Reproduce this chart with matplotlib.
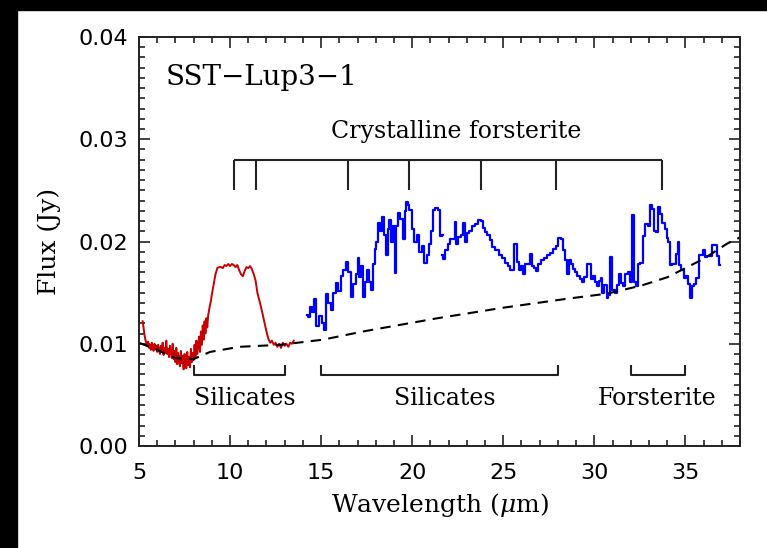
import matplotlib
matplotlib.use('Agg')
import matplotlib.pyplot as plt
from matplotlib.patches import Rectangle
from matplotlib.ticker import MultipleLocator

# SL module (red)
red_wave = [5.20, 5.25, 5.30, 5.35, 5.40, 5.45, 5.50, 5.55, 5.60, 5.65, 5.70, 5.75,
            5.80, 5.85, 5.90, 5.95, 6.00, 6.05, 6.10, 6.15, 6.20, 6.25, 6.30, 6.35,
            6.40, 6.45, 6.50, 6.55, 6.60, 6.65, 6.70, 6.75, 6.80, 6.85, 6.90, 6.95,
            7.00, 7.05, 7.10, 7.15, 7.20, 7.25, 7.30, 7.35, 7.40, 7.45, 7.50, 7.55,
            7.60, 7.65, 7.70, 7.75, 7.80, 7.85, 7.90, 7.95, 8.00, 8.05, 8.10, 8.15,
            8.20, 8.25, 8.30, 8.35, 8.40, 8.45, 8.50, 8.55, 8.60, 8.65, 8.70, 8.75,
            8.80, 8.85, 8.90, 8.95, 9.00,
            9.1, 9.2, 9.3, 9.4, 9.5, 9.6, 9.7, 9.8, 9.9, 10.0, 10.1, 10.2, 10.3, 10.4,
            10.5, 10.6, 10.7, 10.8, 10.9, 11.0, 11.1, 11.2, 11.3, 11.4, 11.5, 11.6,
            11.7, 11.8, 11.9, 12.0, 12.1, 12.2, 12.3, 12.4, 12.5, 12.6, 12.7, 12.8,
            12.9, 13.0, 13.1, 13.2, 13.3, 13.4, 13.5]
red_flux = [0.0122, 0.0116, 0.0109, 0.0104, 0.0101, 0.0098, 0.0102, 0.0096, 0.0099,
            0.0094, 0.0101, 0.0097, 0.0093, 0.0100, 0.0095, 0.0098, 0.0092, 0.0099,
            0.0094, 0.0090, 0.0098, 0.0093, 0.0101, 0.0089, 0.0096, 0.0091, 0.0103,
            0.0090, 0.0095, 0.0087, 0.0098, 0.0092, 0.0086, 0.0100, 0.0085, 0.0093,
            0.0082, 0.0096, 0.0080, 0.0091, 0.0084, 0.0078, 0.0093, 0.0081, 0.0088,
            0.0075, 0.0090, 0.0083, 0.0076, 0.0092, 0.0079, 0.0087, 0.0077, 0.0095,
            0.0082, 0.0091, 0.0084, 0.0099, 0.0086, 0.0103, 0.0090, 0.0098, 0.0107,
            0.0092, 0.0112, 0.0099, 0.0118, 0.0104, 0.0122, 0.0110, 0.0125, 0.0116,
            0.0128, 0.0133, 0.0138, 0.0142, 0.0148,
            0.0158, 0.0168, 0.0174, 0.0175, 0.0175, 0.0174, 0.0177, 0.0176, 0.0178,
            0.0176, 0.0178, 0.0177, 0.0175, 0.0177, 0.0172, 0.0168, 0.0166, 0.0171,
            0.0175, 0.0174, 0.0176, 0.0173, 0.0168, 0.0162, 0.0150, 0.0143, 0.0136,
            0.0128, 0.0120, 0.0112, 0.0105, 0.0101, 0.0103, 0.0099, 0.0101, 0.0097,
            0.0100, 0.0096, 0.0101, 0.0098, 0.0100, 0.0097, 0.0101, 0.0100, 0.0103]

# LL2 (blue, first part)
ll2_wave = [14.22, 14.35, 14.45, 14.55, 14.68, 14.8, 14.96, 15.1, 15.2, 15.32, 15.45,
            15.6, 15.72, 15.87, 16.0, 16.15, 16.3, 16.42, 16.55, 16.7, 16.85, 16.95,
            17.06, 17.15, 17.25, 17.34, 17.47, 17.6, 17.7, 17.8, 17.9, 17.98, 18.08,
            18.17, 18.3, 18.44, 18.52, 18.6, 18.7, 18.8, 18.9, 19.0, 19.08, 19.18,
            19.26, 19.4, 19.54, 19.62, 19.69, 19.8, 19.9, 20.05, 20.18, 20.3, 20.46,
            20.6, 20.73, 20.85, 20.95, 21.08, 21.19, 21.33, 21.47, 21.56, 21.68]
ll2_flux = [0.0128, 0.0126, 0.0136, 0.0131, 0.0144, 0.0117, 0.0127, 0.0120, 0.0113,
            0.0149, 0.0140, 0.0133, 0.0150, 0.0159, 0.0152, 0.0166, 0.0172, 0.0180,
            0.0170, 0.0146, 0.0158, 0.0168, 0.0184, 0.0165, 0.0176, 0.0146, 0.0160,
            0.0172, 0.0160, 0.0153, 0.0178, 0.0193, 0.0200, 0.0218, 0.0210, 0.0224,
            0.0206, 0.0187, 0.0212, 0.0221, 0.0200, 0.0215, 0.0169, 0.0215, 0.0228,
            0.0222, 0.0202, 0.0230, 0.0239, 0.0236, 0.0231, 0.0212, 0.0200, 0.0206,
            0.0190, 0.0196, 0.0179, 0.0187, 0.0198, 0.0210, 0.0231, 0.0233, 0.0231,
            0.0205, 0.0206]

# LL1 (blue, second part)
ll1_wave = [21.65, 21.77, 21.88, 22.0, 22.15, 22.29, 22.38, 22.47, 22.6, 22.72, 22.84,
            22.93, 23.05, 23.2, 23.39, 23.55, 23.7, 23.85, 23.94, 24.05, 24.2, 24.32,
            24.49, 24.65, 24.86, 25.0, 25.2, 25.3, 25.42, 25.55, 25.68, 25.78, 25.9,
            26.02, 26.14, 26.3, 26.45, 26.52, 26.62, 26.74, 26.87, 27.0, 27.15, 27.3,
            27.5, 27.65, 27.8, 27.95, 28.1, 28.22, 28.34, 28.45, 28.52, 28.65, 28.78,
            28.9, 29.0, 29.12, 29.26, 29.38, 29.52, 29.65, 29.75, 29.85, 29.97, 30.1,
            30.2, 30.3, 30.4, 30.5, 30.62, 30.72, 30.82, 30.94, 31.05, 31.18, 31.3,
            31.4, 31.52, 31.64, 31.76, 31.9, 32.0, 32.1, 32.22, 32.33, 32.47, 32.6,
            32.75, 32.86, 33.0, 33.11, 33.22, 33.3, 33.43, 33.57, 33.68, 33.8, 33.92,
            34.02, 34.12, 34.2, 34.32, 34.43, 34.55, 34.63, 34.72, 34.85, 35.0, 35.1,
            35.2, 35.31, 35.42, 35.55, 35.67, 35.78, 35.92, 36.04, 36.14, 36.28, 36.42,
            36.55, 36.7, 36.8, 36.9]
ll1_flux = [0.0187, 0.0183, 0.0192, 0.0198, 0.0202, 0.0202, 0.0219, 0.0198, 0.0204,
            0.0206, 0.0218, 0.0200, 0.0208, 0.0210, 0.0215, 0.0217, 0.0221, 0.0220,
            0.0213, 0.0209, 0.0206, 0.0201, 0.0195, 0.0192, 0.0187, 0.0184, 0.0179,
            0.0176, 0.0172, 0.0172, 0.0198, 0.0180, 0.0172, 0.0176, 0.0168, 0.0178,
            0.0178, 0.0188, 0.0176, 0.0174, 0.0171, 0.0178, 0.0182, 0.0184, 0.0187,
            0.0189, 0.0193, 0.0196, 0.0203, 0.0202, 0.0192, 0.0182, 0.0168, 0.0182,
            0.0178, 0.0173, 0.0170, 0.0166, 0.0163, 0.0160, 0.0165, 0.0178, 0.0178,
            0.0163, 0.0166, 0.0160, 0.0156, 0.0161, 0.0164, 0.0150, 0.0157, 0.0145,
            0.0148, 0.0185, 0.0153, 0.0150, 0.0157, 0.0168, 0.0159, 0.0156, 0.0168,
            0.0170, 0.0160, 0.0226, 0.0160, 0.0156, 0.0178, 0.0179, 0.0205, 0.0217,
            0.0215, 0.0236, 0.0232, 0.0210, 0.0209, 0.0234, 0.0227, 0.0218, 0.0212,
            0.0203, 0.0200, 0.0177, 0.0178, 0.0178, 0.0188, 0.0200, 0.0177, 0.0172,
            0.0164, 0.0166, 0.0158, 0.0145, 0.0156, 0.0158, 0.0164, 0.0187, 0.0187,
            0.0192, 0.0185, 0.0186, 0.0186, 0.0197, 0.0197, 0.0186, 0.0177]

# continuum (dashed)
cont_wave = [5.0, 6.0, 7.0, 8.0, 8.9, 10.5, 12.8, 13.7, 15.1, 17.3, 19.5, 21.4, 24.9,
             28.5, 30.7, 32.6, 34.0, 35.0, 36.0, 37.3, 38.0]
cont_flux = [0.0101, 0.0094, 0.0086, 0.0085, 0.0092, 0.0097, 0.0099, 0.0101, 0.0104,
             0.0112, 0.0119, 0.0125, 0.0135, 0.0144, 0.0149, 0.0157, 0.0165, 0.0174,
             0.0183, 0.0198, 0.0204]

forst_lines = [10.2, 11.4, 16.5, 19.8, 23.8, 27.9, 33.7]
bands = [(8.0, 13.0, 'Silicates', 10.8), (15.0, 28.0, 'Silicates', 21.8),
         (32.0, 35.0, 'Forsterite', 33.45)]

plt.rcParams['mathtext.fontset'] = 'dejavuserif'
serif = 'DejaVu Serif'

fig = plt.figure(figsize=(7.67, 5.48), dpi=100)
ax = fig.add_axes([0.1812, 0.1861, 0.7836, 0.7464])

ax.plot(red_wave, red_flux, color='#c80000', lw=1.4)
ax.plot(ll2_wave, ll2_flux, color='#0000ff', lw=1.6, drawstyle='steps-mid')
ax.plot(ll1_wave, ll1_flux, color='#0000ff', lw=1.6, drawstyle='steps-mid')
ax.plot(cont_wave, cont_flux, color='black', lw=1.5, ls=(0, (5, 3.5)))

# crystalline forsterite bracket
kw = dict(color='#222222', lw=1.5, solid_capstyle='butt')
ax.plot([forst_lines[0], forst_lines[-1]], [0.0280, 0.0280], **kw)
for w in forst_lines:
    ax.plot([w, w], [0.0280, 0.0250], **kw)
ax.text(22.4, 0.0308, 'Crystalline forsterite', ha='center', va='center',
        fontsize=17, family=serif)

# band brackets
for x0, x1, name, xc in bands:
    ax.plot([x0, x0, x1, x1], [0.0079, 0.0069, 0.0069, 0.0079], **kw)
    ax.text(xc, 0.0046, name, ha='center', va='center', fontsize=17, family=serif)

ax.text(6.45, 0.0360, 'SST\u2212Lup3\u22121', ha='left', va='center',
        fontsize=20, family=serif)

ax.set_xlim(5, 38)
ax.set_ylim(0, 0.04)
ax.xaxis.set_major_locator(MultipleLocator(5))
ax.xaxis.set_minor_locator(MultipleLocator(1))
ax.yaxis.set_major_locator(MultipleLocator(0.01))
ax.yaxis.set_minor_locator(MultipleLocator(0.001))
ax.set_yticklabels(['%.2f' % v for v in ax.get_yticks()])
ax.tick_params(which='both', direction='in', top=True, right=True, width=1.2,
               color='#222222', labelsize=16)
ax.tick_params(which='major', length=8, pad=8)
ax.tick_params(which='minor', length=4)
ax.tick_params(axis='x', pad=12)
for s in ax.spines.values():
    s.set_linewidth(1.4)
    s.set_color('#222222')

ax.set_xlabel(r'Wavelength ($\mu$m)', fontsize=18, family=serif, labelpad=6)
ax.set_ylabel('Flux (Jy)', fontsize=18, family=serif, labelpad=12)

# black frame strips of the original screenshot
fig.add_artist(Rectangle((0, 1 - 10 / 548), 1, 10 / 548, transform=fig.transFigure,
                         color='black', zorder=10))
fig.add_artist(Rectangle((0, 0), 17 / 767, 1, transform=fig.transFigure,
                         color='black', zorder=10))

fig.savefig('out.png', dpi=100)
